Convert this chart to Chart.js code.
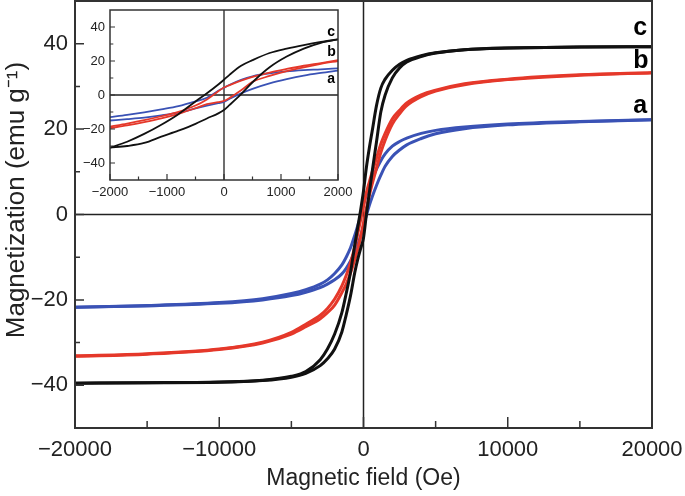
<!DOCTYPE html>
<html>
<head>
<meta charset="utf-8">
<script src="https://cdn.jsdelivr.net/npm/chart.js@4.4.0/dist/chart.umd.min.js"></script>
<style>
  html, body { margin: 0; padding: 0; background: #fff; }
  #wrap { position: relative; width: 685px; height: 496px; }
  #mainChart { position: absolute; left: 0; top: 0; }
  #insetChart { position: absolute; left: 78px; top: 3px; }
</style>
</head>
<body>
<div id="wrap">
  <canvas id="mainChart" width="685" height="496"></canvas>
  <canvas id="insetChart" width="290" height="205"></canvas>
</div>
<script>
// main plot, field in Oe (ascending), magnetization in emu/g
const fieldMain = [-20000, -15000, -10000, -7000, -5000, -4000, -3000, -2500, -2000, -1500, -1200, -900, -600, -400, -200, 0,
  200, 400, 600, 900, 1200, 1500, 2000, 2500, 3000, 4000, 5000, 7000, 10000, 15000, 20000];

// upper = descending-field branch, lower = ascending-field branch
const aUpMain = [-21.7, -21.3, -20.6, -19.7, -18.5, -17.6, -16.3, -15.3, -13.8, -11.8, -10, -7.8, -4.8, -2.6, -0.3, 2.3,
  4.6, 6.5, 8.2, 10.6, 12.6, 14.2, 16, 17.1, 17.9, 19, 19.7, 20.5, 21.2, 21.8, 22.2];
const aLoMain = [-21.7, -21.4, -20.8, -20, -19, -18.2, -17.1, -16.3, -15.3, -13.9, -12.6, -10.9, -8.7, -7, -5, -2.6,
  -0.2, 2.1, 4.1, 6.8, 9.2, 11.3, 13.6, 15.1, 16.3, 17.8, 18.9, 20.1, 21, 21.7, 22.2];

const bUpMain = [-33.1, -32.6, -31.5, -29.9, -27.6, -25.7, -23.6, -22, -19.8, -16.7, -14.3, -11.3, -7.5, -4.5, -1.3, 2,
  5.1, 7.6, 9.9, 13.2, 16.5, 19, 22.4, 24.4, 26.1, 28, 29.1, 30.6, 31.7, 32.7, 33.2];
const bLoMain = [-33.2, -32.7, -31.6, -30.1, -28, -26.3, -24.4, -23, -21.2, -18.3, -16.3, -13.7, -10.5, -8.1, -5.3, -2,
  1.5, 4.4, 7.1, 10.8, 14.5, 17.4, 21.2, 23.6, 25.5, 27.6, 28.9, 30.4, 31.6, 32.6, 33.2];

const cUpMain = [-39.5, -39.4, -39.2, -38.8, -37.9, -36.8, -34, -31.5, -28, -23, -18.5, -13.5, -7, -3, 1, 5.5,
  11, 15.5, 19.5, 25.5, 29.6, 31.7, 33.8, 35.2, 36.1, 37.2, 37.9, 38.6, 39, 39.2, 39.3];
const cLoMain = [-39.5, -39.4, -39.3, -38.9, -38.1, -37.2, -35.4, -33.8, -31.5, -27.5, -23.5, -19, -13.5, -10.5, -8, -5.5,
  0, 5, 10, 17, 24, 28, 32, 34.3, 35.7, 37, 37.8, 38.6, 39, 39.2, 39.3];

// inset, -2000..2000 Oe
const fieldInset = [-2000, -1700, -1400, -1100, -800, -500, -300, -100, 0, 100, 300, 500, 800, 1100, 1400, 1700, 2000];

const aUpInset = [-13, -11.7, -10.2, -8.5, -6.6, -3.8, -1.6, 2.5, 4.3, 6, 8.9, 11, 12.8, 13.9, 14.6, 15.1, 15.7];
const aLoInset = [-15, -14.2, -13.3, -12, -10.4, -7.9, -6.3, -4.8, -4, -2.2, 1, 3.6, 6.8, 9.3, 11.4, 13, 14.4];

const bUpInset = [-18.6, -16.8, -14.8, -12.5, -9.9, -6.2, -2.6, 2.2, 4.4, 5.8, 8.4, 10.6, 13.2, 15.3, 17.2, 18.8, 20.5];
const bLoInset = [-19.5, -17.9, -16, -13.8, -11.1, -7.8, -5.4, -4.2, -3.5, -1.7, 2.8, 7.7, 11.2, 14, 16.3, 18.3, 20];

const cUpInset = [-31, -27.5, -22.9, -17.5, -11.3, -3.8, 1, 6.2, 9, 12, 17.2, 20.5, 24.7, 27.3, 29.4, 31.2, 32.7];
const cLoInset = [-31, -30, -28.2, -24.5, -21, -17, -13.8, -10.8, -8.8, -5.8, 0.5, 7.5, 16.3, 22.6, 27.3, 30.7, 32.7];

// tick labels and unlabeled tick marks
const mainXLabels = [-20000, -10000, 0, 10000, 20000];
const mainXMinor = [-15000, -5000, 5000, 15000];
const mainYLabels = [-40, -20, 0, 20, 40];
const mainYMinor = [-30, -10, 10, 30];
const insetXLabels = [-2000, -1000, 0, 1000, 2000];
const insetXMinor = [-1500, -500, 500, 1500];
const insetYLabels = [-40, -20, 0, 20, 40];
const insetYMinor = [-30, -10, 10, 30];

const sampleNames = ["a", "b", "c"];

const COLORS = { a: "#3a52b5", b: "#e5382a", c: "#111111" };
const INK = "#222";

Chart.defaults.font.family = "'Liberation Sans', Arial, sans-serif";
Chart.defaults.color = INK;

const fmt = v => String(v).replace("-", "\u2212");

function branch(field, vals, color, width) {
  return {
    data: field.map((x, i) => ({ x: x, y: vals[i] })),
    showLine: true,
    borderColor: color,
    borderWidth: width,
    pointRadius: 0,
    cubicInterpolationMode: "monotone",
    fill: false
  };
}

function loopSets(field, series, width) {
  // draw order: c under b under a
  const sets = [];
  ["c", "b", "a"].forEach(k => {
    sets.push(branch(field, series[k][0], COLORS[k], width));
    sets.push(branch(field, series[k][1], COLORS[k], width));
  });
  return sets;
}

// frame, zero lines, inward ticks and sample letters
const axesBox = {
  id: "axesBox",
  beforeDatasetsDraw(chart, args, o) {
    const { ctx, chartArea: a, scales: { x, y } } = chart;
    const x0 = x.getPixelForValue(0);
    const y0 = y.getPixelForValue(0);
    ctx.save();
    ctx.strokeStyle = INK;
    ctx.lineWidth = o.zeroWidth;
    ctx.beginPath();
    ctx.moveTo(x0, a.top);
    ctx.lineTo(x0, a.bottom);
    ctx.moveTo(a.left, y0);
    ctx.lineTo(a.right, y0);
    ctx.stroke();
    ctx.restore();
  },
  afterDatasetsDraw(chart, args, o) {
    const { ctx, chartArea: a, scales: { x, y } } = chart;
    ctx.save();
    ctx.strokeStyle = "#333";
    ctx.lineWidth = o.frameWidth;
    ctx.strokeRect(a.left, a.top, a.right - a.left, a.bottom - a.top);

    ctx.lineWidth = o.tickWidth;
    ctx.beginPath();
    o.xMajor.forEach(v => {
      const px = x.getPixelForValue(v);
      ctx.moveTo(px, a.bottom);
      ctx.lineTo(px, a.bottom - o.xLen[0]);
    });
    o.xMinor.forEach(v => {
      const px = x.getPixelForValue(v);
      ctx.moveTo(px, a.bottom);
      ctx.lineTo(px, a.bottom - o.xLen[1]);
    });
    o.yMajor.forEach(v => {
      const py = y.getPixelForValue(v);
      ctx.moveTo(a.left, py);
      ctx.lineTo(a.left + o.yLen[0], py);
    });
    o.yMinor.forEach(v => {
      const py = y.getPixelForValue(v);
      ctx.moveTo(a.left, py);
      ctx.lineTo(a.left + o.yLen[1], py);
    });
    ctx.stroke();

    ctx.fillStyle = "#000";
    ctx.font = "bold " + o.letterSize + "px 'Liberation Sans', Arial, sans-serif";
    ctx.textAlign = "left";
    ctx.textBaseline = "alphabetic";
    sampleNames.forEach(k => {
      const p = o.letters[k];
      ctx.fillText(k, x.getPixelForValue(p[0]), y.getPixelForValue(p[1]));
    });
    ctx.restore();
  }
};

new Chart(document.getElementById("mainChart"), {
  type: "scatter",
  data: {
    datasets: loopSets(fieldMain, {
      a: [aUpMain, aLoMain],
      b: [bUpMain, bLoMain],
      c: [cUpMain, cLoMain]
    }, 3)
  },
  options: {
    responsive: false,
    animation: false,
    layout: { padding: { left: 0, right: 33, top: 1, bottom: 0 } },
    plugins: {
      legend: { display: false },
      tooltip: { enabled: false },
      axesBox: {
        zeroWidth: 1.5, frameWidth: 2, tickWidth: 1.5,
        xMajor: mainXLabels, xMinor: mainXMinor, yMajor: mainYLabels, yMinor: mainYMinor,
        xLen: [11, 7], yLen: [9, 5],
        letterSize: 25,
        letters: { a: [18700, 23.8], b: [18700, 34.3], c: [18700, 42] }
      }
    },
    scales: {
      x: {
        type: "linear", min: -20000, max: 20000,
        afterBuildTicks: s => { s.ticks = mainXLabels.map(v => ({ value: v })); },
        afterFit: s => { s.height = 68; s.paddingLeft = 0; s.paddingRight = 0; },
        grid: { display: false, drawTicks: false },
        border: { display: false },
        ticks: { font: { size: 22 }, padding: 9, maxRotation: 0, autoSkip: false, callback: fmt },
        title: { display: true, text: "Magnetic field (Oe)", font: { size: 23 }, padding: { top: 0, bottom: 4 } }
      },
      y: {
        type: "linear", min: -50, max: 50,
        afterBuildTicks: s => { s.ticks = mainYLabels.map(v => ({ value: v })); },
        afterFit: s => { s.width = 75; s.paddingTop = 0; s.paddingBottom = 0; },
        grid: { display: false, drawTicks: false },
        border: { display: false },
        ticks: { font: { size: 22 }, padding: 7, autoSkip: false, callback: fmt },
        // leading spaces lift the title a little above the axis centre, as in the figure
        title: { display: true, text: "    Magnetization (emu g\u207B\u00B9)", font: { size: 26 }, padding: { top: 1, bottom: 0 } }
      }
    }
  },
  plugins: [axesBox]
});

new Chart(document.getElementById("insetChart"), {
  type: "scatter",
  data: {
    datasets: loopSets(fieldInset, {
      a: [aUpInset, aLoInset],
      b: [bUpInset, bLoInset],
      c: [cUpInset, cLoInset]
    }, 1.8)
  },
  options: {
    responsive: false,
    animation: false,
    layout: { padding: { left: 0, right: 30, top: 7, bottom: 0 } },
    plugins: {
      legend: { display: false },
      tooltip: { enabled: false },
      axesBox: {
        zeroWidth: 1.3, frameWidth: 1.5, tickWidth: 1.2,
        xMajor: insetXLabels, xMinor: insetXMinor, yMajor: insetYLabels, yMinor: insetYMinor,
        xLen: [6, 3.5], yLen: [5, 3.3],
        letterSize: 14,
        letters: { a: [1813, 7], b: [1813, 22.8], c: [1813, 35] }
      }
    },
    scales: {
      x: {
        type: "linear", min: -2000, max: 2000,
        afterBuildTicks: s => { s.ticks = insetXLabels.map(v => ({ value: v })); },
        afterFit: s => { s.height = 28; s.paddingLeft = 0; s.paddingRight = 0; },
        grid: { display: false, drawTicks: false },
        border: { display: false },
        ticks: { font: { size: 13 }, padding: 5, maxRotation: 0, autoSkip: false, callback: fmt }
      },
      y: {
        type: "linear", min: -50, max: 50,
        afterBuildTicks: s => { s.ticks = insetYLabels.map(v => ({ value: v })); },
        afterFit: s => { s.width = 32; s.paddingTop = 0; s.paddingBottom = 0; },
        grid: { display: false, drawTicks: false },
        border: { display: false },
        ticks: { font: { size: 13 }, padding: 5, autoSkip: false, callback: fmt }
      }
    }
  },
  plugins: [axesBox]
});
</script>
</body>
</html>
